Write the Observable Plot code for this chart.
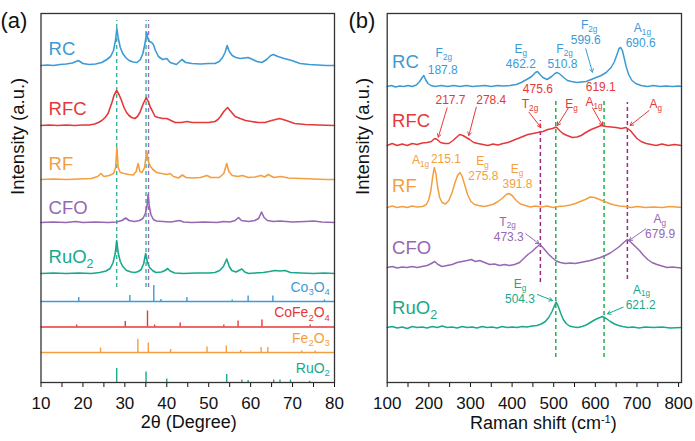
<!DOCTYPE html>
<html><head><meta charset="utf-8">
<script src="https://cdn.jsdelivr.net/npm/d3@7"></script>
<script src="https://cdn.jsdelivr.net/npm/@observablehq/plot@0.6"></script>
<style>
body{margin:0;background:#fff;}
#wrap{position:relative;width:695px;height:441px;overflow:hidden;background:#fff;}
#pa,#pb{position:absolute;top:0;}
#pa{left:0}#pb{left:345px}
</style></head><body><div id="wrap"><div id="pa"></div><div id="pb"></div></div>
<script>
// ---------- shared ----------
const seriesNames = ["RC", "RFC", "RF", "CFO", "RuO_{2}"];
const seriesColors = ["#3c9ad6", "#e5383b", "#f59e3f", "#9667b3", "#19a98a"];

// ---------- (a) XRD traces: [2θ, intensity above own baseline] ----------
const xrdRC = [[10,0],[11.5,0.5],[13,0],[14.5,1],[16,1.5],[17.5,2.5],[18.9,5],[20,2],[21.5,1],[23,1.5],[24.5,3],[25.7,6],[26.6,9],[27.3,15],[27.8,26],[28.1,37],[28.4,28],[28.9,18],[29.5,12],[30.2,8],[31,5],[32,3.5],[32.9,3],[33.7,6],[34.3,12],[34.8,22],[35.2,33],[35.5,27],[35.9,24],[36.4,23],[36.8,21],[37.3,15],[38,9],[39,6],[40,7],[40.8,3],[42.3,1],[43.6,6],[44.5,3],[46,2],[48,1.5],[50,2],[51.5,2],[52.5,4],[53.3,8],[53.9,13],[54.4,20],[54.9,14],[55.6,10],[56.5,8],[57.5,7],[58.5,7.5],[59.4,8],[60.5,6],[61.5,4],[62.7,3],[63.8,6],[64.8,10],[65.4,11],[66.5,9],[68,7],[69.8,5],[71.8,2],[74,1],[76,0.5],[78,0],[80,0]];
const xrdRFC = [[10,0],[12,0.5],[14,0],[16,0.5],[18,0],[20,0.5],[21.5,0.5],[22.8,1.5],[23.7,3],[24.5,5],[25.3,8],[26,12],[26.5,18],[27,24],[27.4,30],[28.05,35],[28.6,31],[29.2,25],[29.8,18],[30.4,13],[31,10],[31.6,8],[32.4,7],[33,9],[33.6,13],[34.4,22],[35.1,28],[35.6,24],[36.1,18],[36.5,15],[37.2,9],[38,8],[39,7],[40,7],[41,5],[42,3],[43.5,3],[44.9,4],[46,3],[48,3],[50,3],[51.5,4],[52.2,6],[52.8,9],[53.6,14],[54.5,18],[55.3,14],[56.3,9],[57.5,7],[58.8,5],[60.2,4],[61.8,3],[63.4,3],[65,5],[66.9,7],[68.5,5],[70.5,2],[73,1],[76,0.5],[80,0]];
const xrdRF = [[10,0],[13,0.5],[16,0],[19,0.5],[22,1],[23.5,3],[24.3,6],[25,3],[26.3,4],[27.3,6],[27.8,12],[28.1,32],[28.4,12],[28.9,7],[29.8,6],[31,5],[32,4.5],[32.7,8],[33.15,16],[33.6,8],[34.1,7],[34.7,12],[35.2,28],[35.6,18],[36.1,13],[36.7,10],[37.6,7],[38.8,6],[40,5],[40.8,6],[41.6,3],[42.8,1.5],[43.7,4.5],[44.6,2],[46,1.5],[48,2],[49.6,4],[50.5,2],[52.5,2],[53.6,6],[54.3,16],[54.8,8],[55.6,4],[57,3],[58,4],[59.5,2],[61,2.5],[62.5,4],[63.3,2.5],[64.2,5],[65.5,2],[67.2,3],[69,1.5],[72,1],[75,0.5],[78,0],[80,0]];
const xrdCFO = [[10,0],[13,0.5],[16,0],[18.3,1],[20,0],[23,0.5],[26,0],[28,0.5],[29.3,2],[30.2,4.5],[31,2],[32.3,1],[33.5,2],[34.3,4],[34.9,9],[35.3,17],[35.55,28],[35.8,17],[36.2,8],[36.8,3],[37.5,1.5],[39,1],[41,0.5],[43,2],[44,0.5],[46,0],[49,0.5],[52,0],[53.5,1],[55,0.5],[56.3,2],[57.1,5],[57.8,2],[59.5,1],[61,2],[61.9,4],[62.6,10.5],[63.2,5],[64,2],[65.5,1],[67,1.5],[70,0.5],[73,1],[75,1.5],[77,0.5],[80,0]];
const xrdRuO2 = [[10,0],[13,0.5],[16,0],[19,0.5],[22,0],[24,1],[25.5,2.5],[26.5,5],[27.2,11],[27.7,20],[28.05,33],[28.4,21],[28.9,12],[29.5,7],[30.4,3],[31.5,1.5],[32.4,1],[33.2,2],[33.9,4],[34.5,10],[34.96,20],[35.4,11],[35.9,6],[36.6,3],[37.4,1],[38.7,1.5],[39.6,3],[40.2,5],[40.8,2.5],[41.9,0.5],[44,0],[47,0.5],[50,0.5],[51.5,1],[52.6,3],[53.5,7],[54.3,14.5],[54.9,7],[55.5,3],[56.5,1.5],[57.9,4.5],[58.6,1.5],[59.5,0],[61,0.5],[63,1],[64.5,2],[65.8,3],[67,2.5],[68.2,3],[69.5,1],[72,0.5],[75,0],[77.5,0.5],[80,0]];
const xrdOffsets = [317, 257, 203, 160, 109];
const xrdLabelY = [333, 273, 218, 174, 125];
const xrdTicks = [10,15,20,25,30,35,40,45,50,55,60,65,70,75,80];
const xrdGuideX = [28.05, 35.05, 35.65];
const xrdGuideColors = ["#38b39b", "#38b39b", "#9b70c0"];

// ---------- (a) reference patterns: [2θ, relative intensity] ----------
const refNames = ["Co_{3}O_{4}", "CoFe_{2}O_{4}", "Fe_{2}O_{3}", "RuO_{2}"];
const refColors = ["#3c9ad6", "#e5383b", "#f59e3f", "#19a98a"];
const refBase = [81, 55.5, 30, 0];
const refCo3O4 = [[19.0,4],[31.2,6],[36.9,16],[38.6,2],[44.8,4],[55.6,1.5],[59.4,5.5],[65.3,5.5],[77.6,1.5]];
const refCoFe2O4 = [[18.5,2],[30.1,5.5],[35.4,16],[37.1,2],[43.2,4],[53.6,2],[57.0,6],[62.7,7],[74.2,2]];
const refFe2O3 = [[24.2,4.5],[33.1,13],[35.6,9.5],[40.9,3],[49.6,5.5],[54.2,6.5],[57.6,2],[62.5,5],[64.1,5],[72.2,1.5],[75.4,1.5]];
const refRuO2 = [[28.05,14],[35.05,10.5],[40.0,3.5],[54.3,8],[57.9,2.5],[59.4,2],[65.5,2.5],[67.0,2.5],[69.5,2.5],[74.1,1.3]];

// ---------- (b) Raman traces: [shift, intensity above own baseline] ----------
const ramRC = [[100,0],[110,1],[120,-0.5],[130,0.5],[140,0],[150,1],[160,0],[170,1.5],[178,5],[184,9],[188,11],[192,7],[198,3],[205,1],[215,0],[230,1],[245,0],[260,1],[275,0],[290,1],[305,0],[320,0.5],[335,1],[350,0],[365,1],[380,0.5],[395,1],[410,2],[422,4],[435,7],[447,10],[456,14],[461,15],[467,12],[474,9],[484,7],[495,10],[503,13],[509,14],[516,12],[524,9],[533,6],[543,5],[555,4],[567,4.5],[578,5],[590,7],[602,9],[614,11],[626,14],[638,19],[646,25],[652,32],[657,38],[661,39],[665,36],[669,29],[674,20],[680,12],[688,6],[697,3],[710,1],[725,0],[740,1],[755,0],[770,0.5],[785,0],[800,0.5],[807,0]];
const ramRFC = [[100,0],[112,2],[124,0],[136,1.5],[148,0],[160,2],[172,1],[184,2.5],[196,3],[206,4],[214,7],[220,6],[228,3],[238,2],[248,2],[258,5],[266,8],[274,11],[282,10],[290,8],[298,6],[308,3],[318,2],[330,1],[342,0],[354,1.5],[366,0.5],[378,2],[390,3],[402,5],[414,7],[426,9],[438,11],[450,12],[462,13],[474,14],[486,16],[497,17],[506,18.5],[514,15],[522,12],[532,10],[545,8],[556,8.5],[566,10],[577,13],[590,16],[602,18],[614,20],[626,19],[638,18.5],[650,18],[662,17],[674,18],[684,15],[692,11],[700,7],[710,4],[722,2],[734,1],[746,0],[760,1.5],[775,0],[790,1],[807,0]];
const ramRF = [[100,0],[112,1.5],[124,0],[136,1],[148,0],[160,1.5],[172,0.5],[185,1],[194,3],[200,8],[205,17],[209,30],[213,40],[217,34],[221,21],[226,10],[232,5],[240,3.5],[248,7],[256,15],[263,25],[269,32],[275,35],[280,31],[286,23],[293,13],[301,6],[310,3],[320,2],[332,1],[344,2],[356,3.5],[366,6],[376,9],[386,13],[392,14],[400,12],[410,7],[420,3.5],[432,2],[444,0.5],[456,1.5],[470,0.5],[484,1.5],[498,0],[512,1],[526,1.5],[540,2.5],[552,4],[564,6],[576,8],[588,10.5],[598,10],[610,8],[622,6],[634,4],[646,2.5],[658,1.5],[672,1],[686,0],[700,1],[720,0],[740,0.5],[760,0],[780,1],[807,0]];
const ramCFO = [[100,0],[112,1],[124,-0.5],[136,0.5],[148,0],[160,1],[172,0],[184,1],[196,2],[206,4],[214,6],[222,3],[232,1],[244,2],[256,3],[268,5],[280,6],[292,7],[302,8],[312,6],[322,7],[334,5],[346,3],[358,3.5],[370,2],[382,3],[394,2],[406,3],[418,5],[428,9],[438,13],[448,16],[458,20],[467,23],[476,19],[486,14],[496,10],[506,6.5],[516,5],[528,4],[540,4.5],[552,4],[564,5],[576,6],[588,7],[600,8.5],[612,10],[624,12],[636,14.5],[648,18],[658,21],[668,25],[677,28],[686,25],[696,21],[706,17],[716,12],[726,8],[736,5],[748,3],[760,1.5],[772,0],[785,0.5],[796,0],[807,-0.5]];
const ramRuO2 = [[100,0],[112,1],[124,-0.5],[136,0.5],[148,-1],[160,1],[172,0],[184,0.5],[196,-0.5],[208,1],[220,0],[232,1.5],[244,0],[256,0.5],[268,-0.5],[280,1],[292,0],[304,0.5],[316,-0.5],[328,1],[340,0],[352,0.5],[364,-0.5],[376,1],[388,0],[400,0.5],[412,0],[424,1],[436,0.5],[448,1.5],[460,2],[470,3.5],[480,6],[488,10],[496,16],[502,22],[506,25.5],[511,21],[517,14],[523,8],[530,4],[538,1.5],[548,0.5],[558,0],[568,1],[578,2.5],[588,5],[598,7.5],[608,9.5],[617,11],[626,9],[636,6],[646,3.5],[656,2],[666,1],[678,0],[690,0.5],[705,-0.5],[720,0.5],[740,0],[760,0.5],[780,-0.5],[807,0]];
const ramOffsets = [296, 237, 175, 115, 55];
const ramLabelY = [320, 261, 196, 134, 74];
const ramTicks = [100,150,200,250,300,350,400,450,500,550,600,650,700,750,800];
const ramGuideX = [468, 505, 621, 677];
const ramGuideY1 = [100, 25, 25, 103];
const ramGuideY2 = [262, 284, 283, 280];
const ramGuideColors = ["#9b2c82", "#22b24c", "#22b24c", "#9b2c82"];

// peak annotations: [label, shift, height]
const notesRC = [["F_{2g}",236,329],["187.8",233.5,312.5],["E_{g}",421,333],["462.2",421,318],["F_{2g}",526,333],["510.8",521,318],["F_{2g}",585,357],["599.6",577,342],["A_{1g}",713,354],["690.6",709,339]];
const notesRFC = [["217.7",252,282],["278.4",350,282],["475.6",462,293],["T_{2g}",443,278],["E_{g}",543,278],["619.1",613,295],["A_{1g}",597,280],["A_{g}",745,278]];
const notesRF = [["A_{1g}",180,222],["215.1",241,223.7],["E_{g}",329,221],["275.8",331,206],["E_{g}",412,213],["391.8",413,198]];
const notesCFO = [["T_{2g}",389,160.5],["473.3",392,145.5],["A_{g}",755,163],["679.9",755.5,148]];
const notesRuO2 = [["E_{g}",419,98],["504.3",419,83],["A_{1g}",711,92.5],["621.2",709,77.5]];
// arrows: [fromShift, fromHeight, toShift, toHeight]
const arrowsRC = [[577,333.7,593,310.3]];
const arrowsRFC = [[244,274.7,222.7,245.3],[314,275.3,296,247],[440.6,270.3,468.8,255.3],[535.4,274.7,508.9,257],[593.2,274.7,617.2,257],[729.3,272,683.6,257]];
const arrowsRF = [];
const arrowsCFO = [[432.7,148.7,464.7,138.7],[721.4,153.7,681.2,142]];
const arrowsRuO2 = [[460.8,88,497,82],[666.8,75.3,629.2,68.7]];

// ---------- rendering ----------
const FONT = '"Liberation Sans", Arial, Helvetica, sans-serif';
const xrdTraces = [xrdRC, xrdRFC, xrdRF, xrdCFO, xrdRuO2];
const refPeaks = [refCo3O4, refCoFe2O4, refFe2O3, refRuO2];
const ramTraces = [ramRC, ramRFC, ramRF, ramCFO, ramRuO2];
const ramNotes = [notesRC, notesRFC, notesRF, notesCFO, notesRuO2];
const ramArrows = [arrowsRC, arrowsRFC, arrowsRF, arrowsCFO, arrowsRuO2];

const shift = (trace, off) => trace.map(([x, h]) => ({x, y: off + h}));

const marksA = [];
xrdGuideX.forEach((gx, i) => marksA.push(Plot.ruleX([gx], {y1: 95, y2: 362, stroke: xrdGuideColors[i], strokeWidth: 1.4, strokeDasharray: "4,3"})));
xrdTraces.forEach((t, i) => {
  marksA.push(Plot.line(shift(t, xrdOffsets[i]), {x: "x", y: "y", stroke: seriesColors[i], strokeWidth: 1.6}));
  marksA.push(Plot.text([seriesNames[i]], {x: 11.8, y: xrdLabelY[i], text: d => d, fill: seriesColors[i], fontSize: 18.5, textAnchor: "start"}));
});
refPeaks.forEach((p, i) => {
  if (refBase[i] > 0) marksA.push(Plot.ruleY([refBase[i]], {stroke: refColors[i], strokeWidth: 1.3}));
  marksA.push(Plot.ruleX(p, {x: d => d[0], y1: refBase[i], y2: d => refBase[i] + d[1], stroke: refColors[i], strokeWidth: 1.4}));
  marksA.push(Plot.text([refNames[i]], {x: 78.9, y: refBase[i] + 14, text: d => d, fill: refColors[i], fontSize: 14, textAnchor: "end"}));
});
marksA.push(Plot.frame({stroke: "#333", strokeWidth: 1.3}));
marksA.push(Plot.text(["(a)"], {frameAnchor: "top-left", text: d => d, dx: -40.5, dy: -1, fontSize: 22, textAnchor: "start"}));
marksA.push(Plot.text(["Intensity (a.u.)"], {frameAnchor: "left", text: d => d, rotate: -90, dx: -22.5, dy: -3, fontSize: 18.5}));
marksA.push(Plot.text(["2θ (Degree)"], {frameAnchor: "bottom", text: d => d, dx: 1, dy: 45.5, fontSize: 18}));

const plotA = Plot.plot({
  width: 345, height: 441,
  marginLeft: 40.5, marginRight: 11, marginTop: 13, marginBottom: 59,
  style: {fontFamily: FONT, fontSize: "17px", background: "transparent", color: "#111"},
  x: {domain: [10, 80], ticks: xrdTicks, tickFormat: d => (d % 10 === 0 ? String(d) : ""), tickSize: 5, tickPadding: 9, label: null},
  y: {domain: [0, 369], axis: null},
  marks: marksA
});
document.getElementById("pa").appendChild(plotA);

const marksB = [];
ramGuideX.forEach((gx, i) => marksB.push(Plot.ruleX([gx], {y1: ramGuideY1[i], y2: ramGuideY2[i], stroke: ramGuideColors[i], strokeWidth: 1.5, strokeDasharray: "4,3"})));
ramTraces.forEach((t, i) => {
  marksB.push(Plot.line(shift(t, ramOffsets[i]), {x: "x", y: "y", stroke: seriesColors[i], strokeWidth: 1.5}));
  marksB.push(Plot.text([seriesNames[i]], {x: 111.8, y: ramLabelY[i], text: d => d, fill: seriesColors[i], fontSize: 18.5, textAnchor: "start"}));
  marksB.push(Plot.text(ramNotes[i], {x: d => d[1], y: d => d[2], text: d => d[0], fill: seriesColors[i], fontSize: 12}));
  marksB.push(Plot.arrow(ramArrows[i], {x1: d => d[0], y1: d => d[1], x2: d => d[2], y2: d => d[3], stroke: seriesColors[i], strokeWidth: 1, headLength: 5.5}));
});
marksB.push(Plot.frame({stroke: "#333", strokeWidth: 1.3}));
marksB.push(Plot.text(["(b)"], {frameAnchor: "top-left", text: d => d, dx: -38.7, dy: -1, fontSize: 22, textAnchor: "start"}));
marksB.push(Plot.text(["Intensity (a.u.)"], {frameAnchor: "left", text: d => d, rotate: -90, dx: -24, dy: -3, fontSize: 18.5}));
marksB.push(Plot.text(["Raman shift (cm^{-1})"], {frameAnchor: "bottom", text: d => d, dx: 9, dy: 46.5, fontSize: 18}));

const plotB = Plot.plot({
  width: 350, height: 441,
  marginLeft: 41.7, marginRight: 14, marginTop: 13, marginBottom: 59,
  style: {fontFamily: FONT, fontSize: "17px", background: "transparent", color: "#111"},
  x: {domain: [100, 807], ticks: ramTicks, tickFormat: d => (d % 100 === 0 ? String(d) : ""), tickSize: 5, tickPadding: 9, label: null},
  y: {domain: [0, 369], axis: null},
  marks: marksB
});
document.getElementById("pb").appendChild(plotB);

// rich text: _{sub} and ^{sup}
function richify(svg) {
  const NS = "http://www.w3.org/2000/svg";
  svg.querySelectorAll("text").forEach(t => {
    const s = t.textContent;
    if (!/[_^]\{/.test(s) || t.querySelector("tspan")) return;
    const fs = parseFloat(getComputedStyle(t).fontSize) || 12;
    t.textContent = "";
    const re = /([_^])\{([^}]*)\}|([^_^]+)/g;
    let m, cur = 0;
    while ((m = re.exec(s))) {
      const ts = document.createElementNS(NS, "tspan");
      let target, txt;
      if (m[1]) { target = m[1] === "_" ? fs * 0.22 : -fs * 0.34; txt = m[2]; ts.setAttribute("font-size", (fs * (m[1] === "_" ? 0.68 : 0.62)).toFixed(2)); }
      else { target = 0; txt = m[3]; }
      if (target !== cur) { ts.setAttribute("dy", (target - cur).toFixed(2)); cur = target; }
      ts.textContent = txt;
      t.appendChild(ts);
    }
  });
}
richify(plotA);
richify(plotB);
</script></body></html>
